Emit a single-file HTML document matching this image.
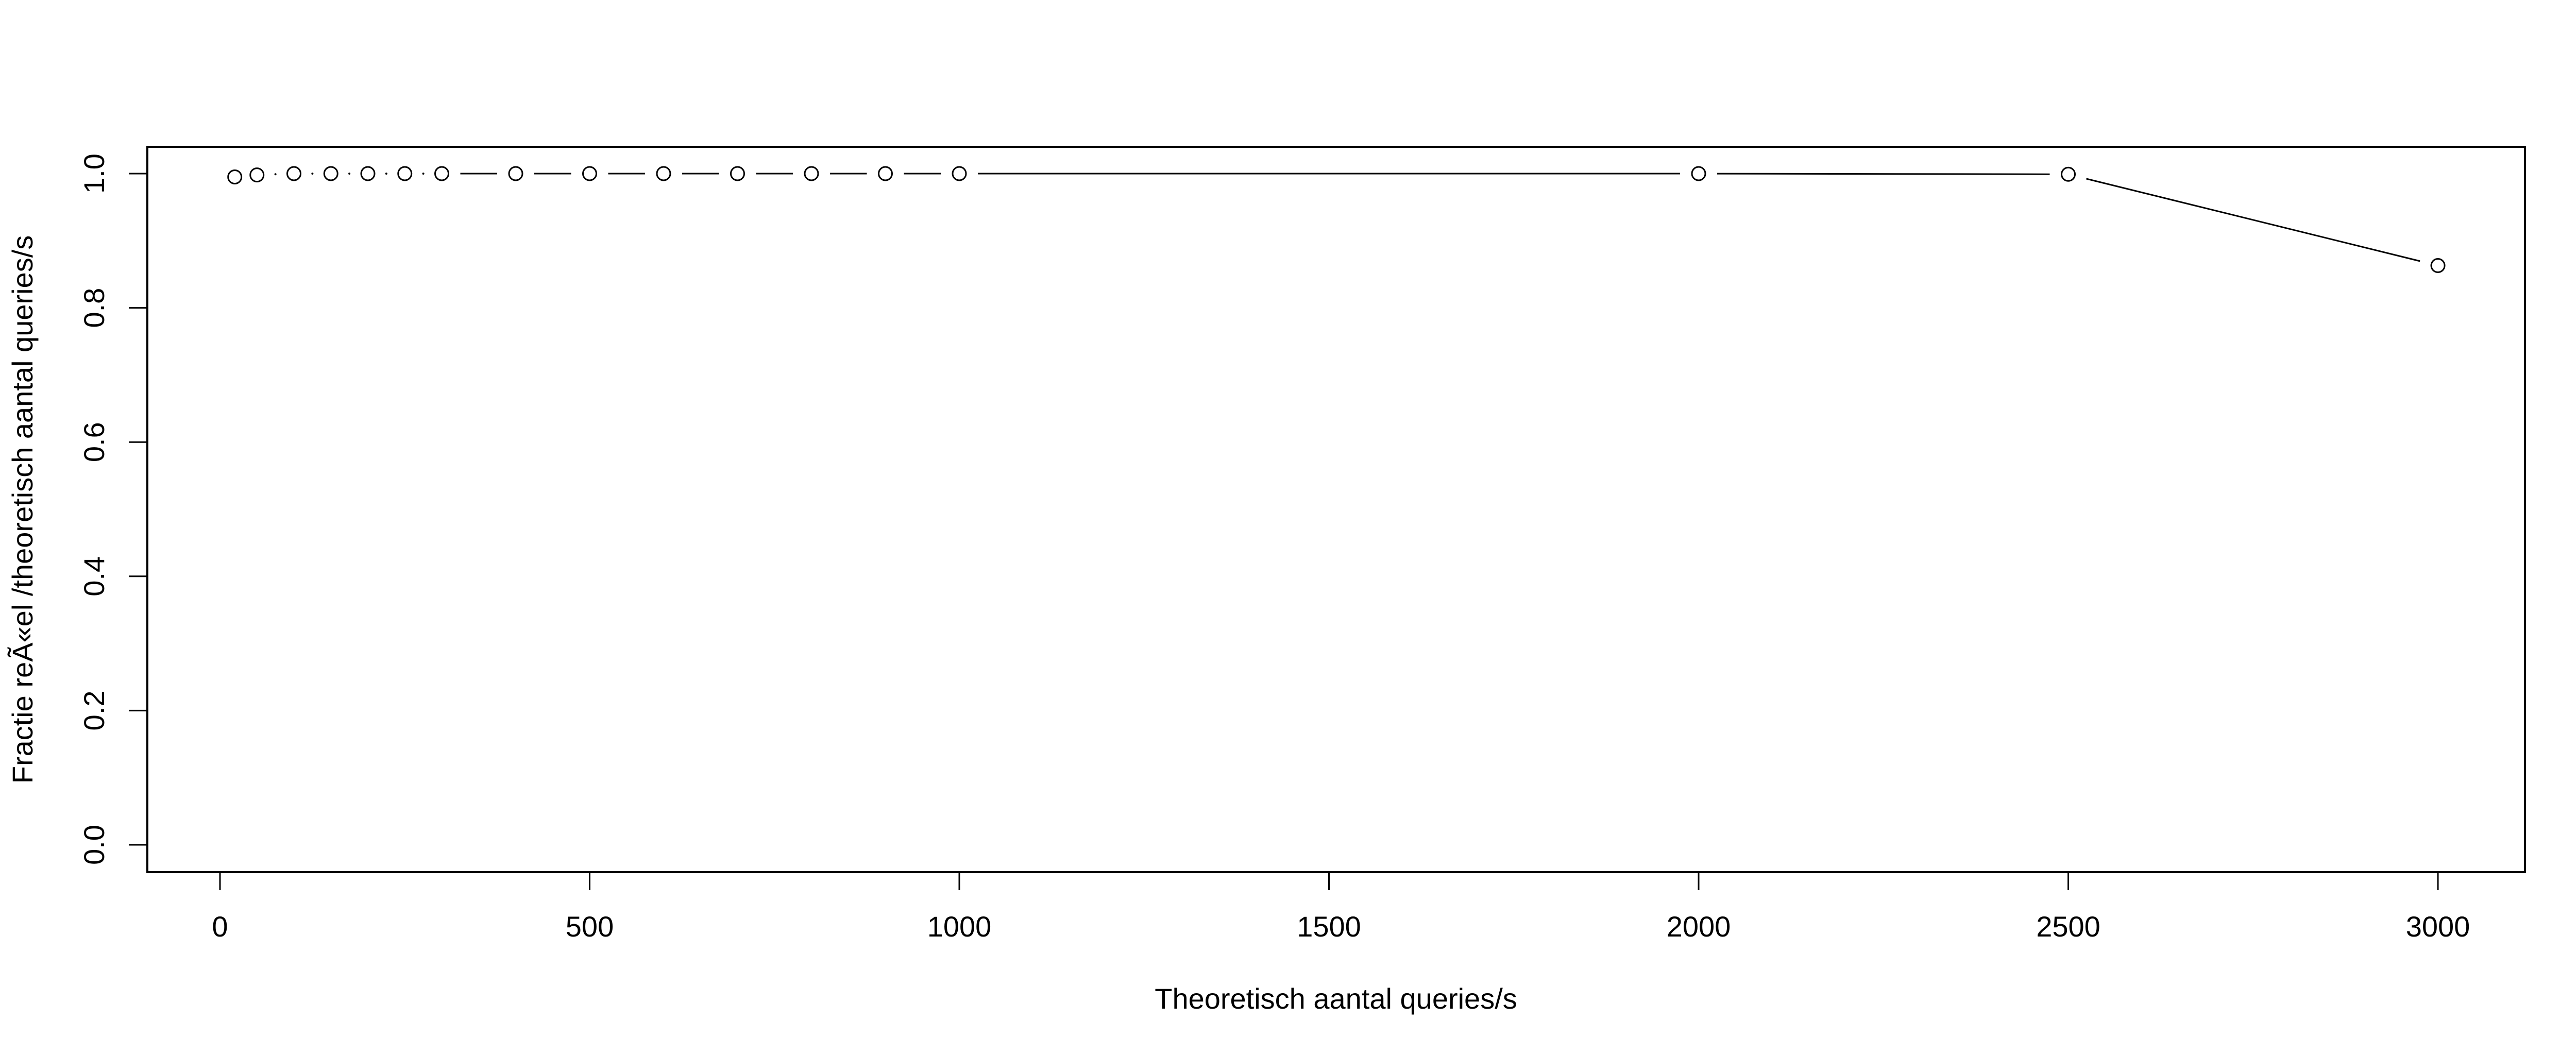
<!DOCTYPE html>
<html><head><meta charset="utf-8"><style>
html,body{margin:0;padding:0;background:#fff;}
svg{display:block;font-family:"Liberation Sans",Arial,sans-serif;}
</style></head><body>
<svg id="chart" width="5048" height="2048" viewBox="0 0 5048 2048" xmlns="http://www.w3.org/2000/svg">
<rect x="0" y="0" width="5048" height="2048" fill="#fff"/>
<rect x="286" y="285" width="4615" height="1408" fill="none" stroke="#000" stroke-width="4"/>
<g id="xaxis"></g>
<g id="yaxis"></g>
<g id="series"></g>
<text x="2593" y="1958" font-size="56" text-anchor="middle">Theoretisch aantal queries/s</text>
<text transform="translate(63,989) rotate(-90)" font-size="56" text-anchor="middle">Fractie reÃ«el /theoretisch aantal queries/s</text>
</svg>
<script>
const xValues = [20, 50, 100, 150, 200, 250, 300, 400, 500, 600, 700, 800, 900, 1000, 2000, 2500, 3000];
const yValues = [0.995, 0.998, 1, 1, 1, 1, 1, 1, 1, 1, 1, 1, 1, 1, 1, 0.999, 0.863];
const xTicks = [0, 500, 1000, 1500, 2000, 2500, 3000];
const yTicks = [0, 0.2, 0.4, 0.6, 0.8, 1.0];
const yTickLabels = ["0.0", "0.2", "0.4", "0.6", "0.8", "1.0"];

const NS = "http://www.w3.org/2000/svg";
const X0 = 427, XS = (1862 - 427) / 1000;
const Y0 = 1640, YS = (1640 - 337);
function sx(v){ return X0 + v * XS; }
function sy(v){ return Y0 - v * YS; }
function mk(tag, attrs){ const e = document.createElementNS(NS, tag); for (const k in attrs) e.setAttribute(k, attrs[k]); return e; }

const xa = document.getElementById('xaxis');
xTicks.forEach(t => {
  const l = mk('line', {x1: sx(t), x2: sx(t), y1: 1693, y2: 1728, stroke: '#000', 'stroke-width': 3});
  
  
  xa.appendChild(l);
  const tx = mk('text', {x: sx(t), y: 1818, 'font-size': 56, 'text-anchor': 'middle'});
  tx.textContent = String(t);
  
  
  xa.appendChild(tx);
});
const ya = document.getElementById('yaxis');
yTicks.forEach((t, i) => {
  const l = mk('line', {x1: 250, x2: 286, y1: sy(t), y2: sy(t), stroke: '#000', 'stroke-width': 3});
  
  
  ya.appendChild(l);
  const tx = mk('text', {transform: `translate(202,${sy(t)}) rotate(-90)`, 'font-size': 56, 'text-anchor': 'middle'});
  tx.textContent = yTickLabels[i];
  
  
  ya.appendChild(tx);
});

const sg = document.getElementById('series');
const GAP = 36;
for (let i = 0; i < xValues.length - 1; i++) {
  const ax = sx(xValues[i]), ay = sy(yValues[i]);
  const bx = sx(xValues[i+1]), by = sy(yValues[i+1]);
  const dx = bx - ax, dy = by - ay, d = Math.hypot(dx, dy);
  if (d <= 2 * GAP) {
    if (d > 2 * GAP - 6) {
      const c = mk('circle', {cx: (ax+bx)/2, cy: (ay+by)/2, r: 2, fill: '#000'});
      
      
      sg.appendChild(c);
    }
    continue;
  }
  const ux = dx / d, uy = dy / d;
  const l = mk('line', {x1: ax + ux*GAP, y1: ay + uy*GAP, x2: bx - ux*GAP, y2: by - uy*GAP, stroke: '#000', 'stroke-width': 3});
  
  
  sg.appendChild(l);
}
xValues.forEach((x, i) => {
  const c = mk('circle', {cx: sx(x), cy: sy(yValues[i]), r: 13, fill: 'none', stroke: '#000', 'stroke-width': 3});
  
  
  sg.appendChild(c);
});
</script>
</body></html>
